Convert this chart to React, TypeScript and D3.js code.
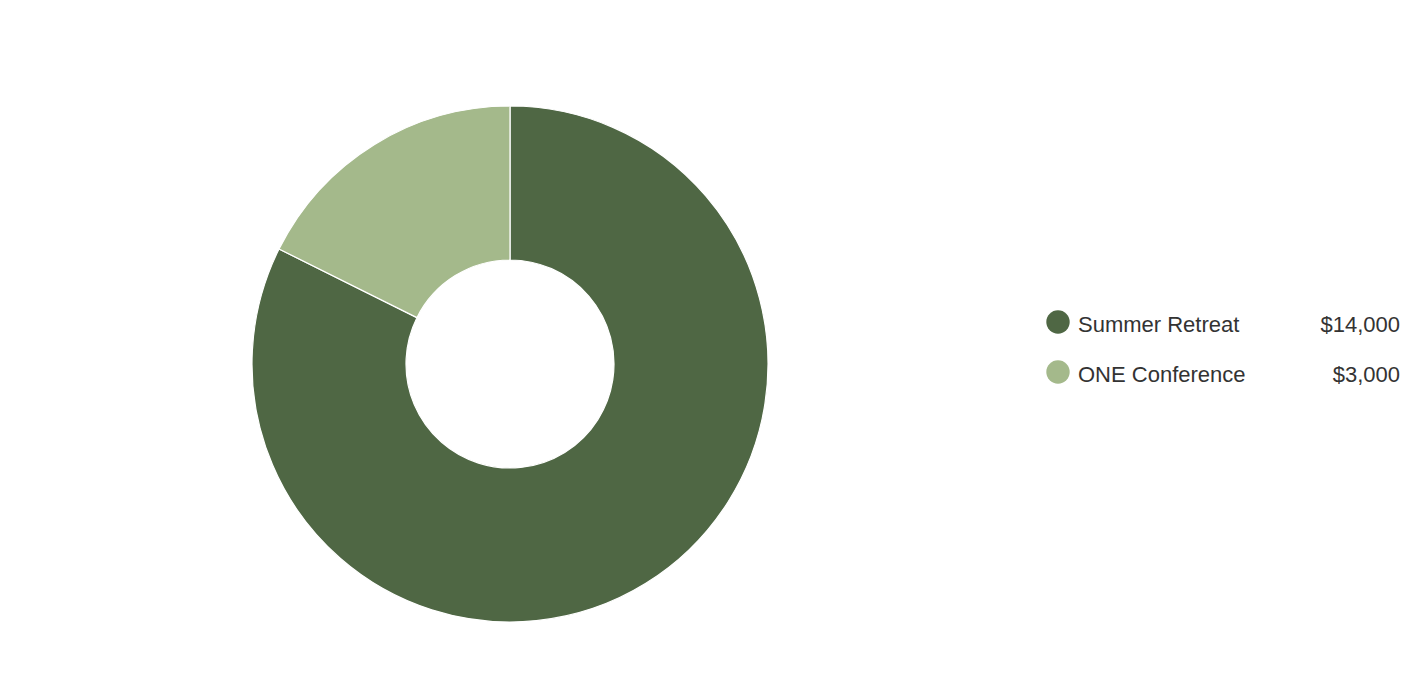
import React from 'react';
import * as d3 from 'd3';

const categories = ['Summer Retreat', 'ONE Conference'];
const amounts = [14000, 3000];
const colors = ['#4f6744', '#a4b98b'];

const WIDTH = 1414;
const HEIGHT = 694;

export default function App() {
  const cx = 510;
  const cy = 364;
  const outer = 258;
  const inner = 104;

  const data = categories.map((c, i) => ({ name: c, value: amounts[i] }));

  const pie = d3
    .pie<{ name: string; value: number }>()
    .sort(null)
    .value(d => d.value);

  const arc: any = d3.arc().innerRadius(inner).outerRadius(outer);

  const arcs = pie(data);

  // legend rows
  const legendY = d3
    .scalePoint<string>()
    .domain(categories)
    .range([322, 372]);

  const fmt = (v: number) => '$' + d3.format(',')(v);

  return (
    <svg
      width={WIDTH}
      height={HEIGHT}
      style={{ position: 'absolute', left: 0, top: 0 }}
      fontFamily="'Liberation Sans', Arial, Helvetica, sans-serif"
    >
      <rect width={WIDTH} height={HEIGHT} fill="#fff" />
      {/* 环形 */}
      <g transform={`translate(${cx},${cy})`}>
        {arcs.map((a, i) => (
          <path
            key={i}
            d={arc(a)}
            fill={colors[i]}
            stroke="#fff"
            strokeWidth={1.2}
          />
        ))}
      </g>

      {/* 图例 */}
      <g>
        {data.map((d, i) => {
          const y = legendY(d.name) || 0;
          return (
            <g key={i}>
              <circle cx={1058} cy={y} r={11.7} fill={colors[i]} />
              <text x={1078} y={y + 10} fontSize={22} fill="#333">
                {d.name}
              </text>
              <text
                x={1400}
                y={y + 10}
                fontSize={22}
                fill="#333"
                textAnchor="end"
              >
                {fmt(d.value)}
              </text>
            </g>
          );
        })}
      </g>
    </svg>
  );
}
